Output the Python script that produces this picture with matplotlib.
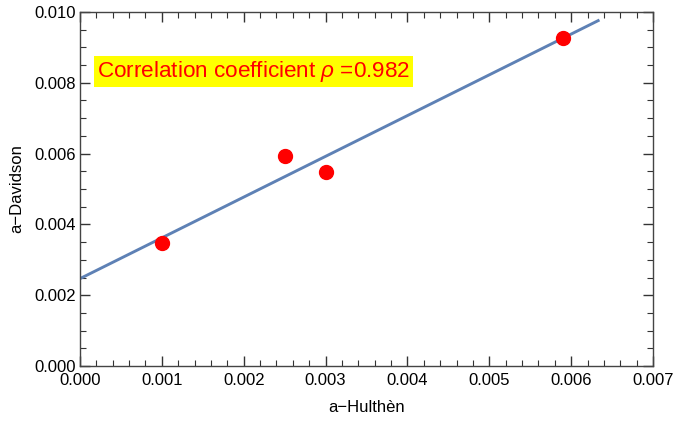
import matplotlib
matplotlib.use('Agg')
import matplotlib.pyplot as plt
import numpy as np
from matplotlib.ticker import MultipleLocator, FormatStrFormatter

plt.rcParams['font.family'] = ['Liberation Sans', 'DejaVu Sans']
plt.rcParams['mathtext.fontset'] = 'custom'
plt.rcParams['mathtext.it'] = 'Liberation Sans:italic'
plt.rcParams['mathtext.rm'] = 'Liberation Sans'

# data
a_hulthen = [0.001, 0.0025, 0.003, 0.0059]
a_davidson = [0.00347, 0.00594, 0.00548, 0.00926]
rho = 0.982

# least squares line
slope, intercept = np.polyfit(a_hulthen, a_davidson, 1)
xfit = np.linspace(0, 0.00633, 50)
yfit = slope * xfit + intercept

fig = plt.figure(figsize=(6.73, 4.23), dpi=100)
ax = fig.add_axes([80/673, 1-366/423, 573/673, 354/423])

ax.plot(xfit, yfit, color='#5E81B5', lw=2.1, zorder=2)
ax.plot(a_hulthen, a_davidson, 'o', color='red', ms=10, zorder=3)

ax.set_xlim(0, 0.007)
ax.set_ylim(0, 0.010)
ax.xaxis.set_major_locator(MultipleLocator(0.001))
ax.xaxis.set_minor_locator(MultipleLocator(0.0002))
ax.yaxis.set_major_locator(MultipleLocator(0.002))
ax.yaxis.set_minor_locator(MultipleLocator(0.0005))
ax.xaxis.set_major_formatter(FormatStrFormatter('%.3f'))
ax.yaxis.set_major_formatter(FormatStrFormatter('%.3f'))

ax.tick_params(which='both', direction='in', top=True, right=True, labelsize=12, colors='#333', labelcolor='black')
ax.tick_params(which='major', length=7, width=1)
ax.tick_params(which='minor', length=4, width=0.8)
ax.tick_params(axis='x', pad=5)
ax.tick_params(axis='y', pad=3)
for s in ax.spines.values():
    s.set_color('#444')
    s.set_linewidth(1)

ax.set_xlabel('a\u2212Hulthèn', fontsize=12, labelpad=9)
ax.set_ylabel('a\u2212Davidson', fontsize=12, labelpad=7)

ax.text(0.00021, 0.00832, 'Correlation coefficient $\\rho$ =%.3f' % rho,
        color='red', fontsize=16.2, va='center', ha='left',
        bbox=dict(facecolor='yellow', edgecolor='none', pad=2))

fig.savefig('out.png', dpi=100)
